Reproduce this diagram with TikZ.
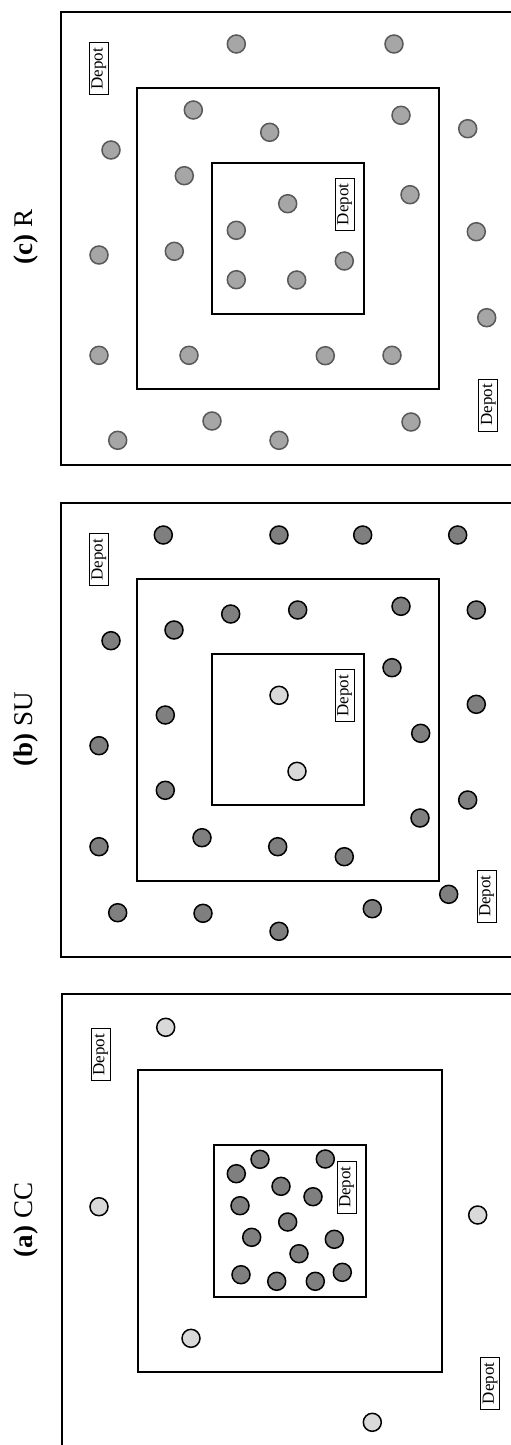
\documentclass[tikz,border=0pt]{standalone}
\usepackage{fontspec}
\setmainfont{Liberation Serif}
\definecolor{dkfill}{HTML}{7F7F7F}
\definecolor{mdfill}{HTML}{A6A6A6}
\definecolor{ltfill}{HTML}{D9D9D9}
\definecolor{mdline}{HTML}{595959}
\tikzset{
  dk/.style={circle,draw=black,fill=dkfill,line width=1.5pt,minimum size=18pt,inner sep=0pt},
  lt/.style={circle,draw=black,fill=ltfill,line width=1.5pt,minimum size=18pt,inner sep=0pt},
  md/.style={circle,draw=mdline,fill=mdfill,line width=1.5pt,minimum size=18pt,inner sep=0pt},
  depot/.style={draw,line width=0.9pt,rotate=90,fill=white,font=\fontsize{17}{17}\selectfont,inner sep=0pt,minimum width=52pt,minimum height=19pt},
  lbl/.style={rotate=90,font=\fontsize{27}{27}\selectfont,inner sep=0pt},
  frame/.style={draw=black,line width=2pt}
}
\begin{document}
\begin{tikzpicture}[x=1pt,y=-1pt]
\useasboundingbox (0,0) rectangle (511,1445);
\clip (0,0) rectangle (511,1445);
\fill[white] (0,0) rectangle (511,1445);
% ---------------- (c) R
\node[lbl] (labc) at (26,237) {\textbf{(c)} R};
\draw[frame] (60.7,12.3) rectangle (513.4,465);
\draw[frame] (136.7,87.7) rectangle (439,389);
\draw[frame] (212,163.3) rectangle (363.7,314);
\node[depot] (c-d1) at (98.8,68.7) {Depot};
\node[depot] (c-d2) at (344.7,204.3) {Depot};
\node[depot] (c-d3) at (488.3,405) {Depot};
\foreach \i/\x/\y in {1/236.3/44, 2/394/44, 3/193.3/110, 4/269.7/132.3, 5/401/115.3, 6/467.7/128.7, 7/111/150, 8/184.3/175.7, 9/410/194.7, 10/287.7/203.7, 11/236.3/230.3, 12/476.3/231.7, 13/99/255, 14/174.3/251.3, 15/344.3/261, 16/236.3/279.7, 17/296.7/280, 18/486.7/317.7, 19/99/355.3, 20/189/355.3, 21/325.3/355.7, 22/392/355.3, 23/212/421, 24/411/422, 25/117.7/440.3, 26/279/440.3}
  \node[md] (c\i) at (\x,\y) {};
% ---------------- (b) SU
\node[lbl] (labb) at (26,729) {\textbf{(b)} SU};
\draw[frame] (60.7,503.3) rectangle (513.4,956.7);
\draw[frame] (136.7,578.7) rectangle (439,880.7);
\draw[frame] (212,654) rectangle (363.7,805);
\node[depot] (b-d1) at (98.8,559.7) {Depot};
\node[depot] (b-d2) at (344.7,695.8) {Depot};
\node[depot] (b-d3) at (486.5,896.2) {Depot};
\foreach \i/\x/\y in {1/163.3/535, 2/279/535, 3/362.7/535, 4/457.7/535, 5/230.7/614, 6/297.7/610, 7/401/606.3, 8/476.3/610, 9/174/630, 10/111/640.7, 11/392/667.7, 12/476.3/704.3, 13/165.3/715, 14/420.7/733.3, 15/99/745.7, 16/165.3/790.3, 17/467.7/800, 18/420/818, 19/202/837.7, 20/277.7/846.7, 21/344.3/856.7, 22/99/846.7, 23/448.7/894.3, 24/372.3/908.7, 25/117.7/912.7, 26/203/913.3, 27/279/931.3}
  \node[dk] (b\i) at (\x,\y) {};
\node[lt] (b28) at (279,695.3) {};
\node[lt] (b29) at (297,771.3) {};
% ---------------- (a) CC
\node[lbl] (laba) at (26,1220) {\textbf{(a)} CC};
\draw[frame] (62.3,994.3) rectangle (515,1447);
\draw[frame] (138,1070) rectangle (441.7,1372.3);
\draw[frame] (213.7,1145) rectangle (365.7,1297.3);
\foreach \i/\x/\y in {1/165.7/1027.3, 2/99/1206.7, 3/477.7/1215, 4/191/1338.3, 5/372.3/1422.3}
  \node[lt] (a\i) at (\x,\y) {};
\foreach \i/\x/\y in {6/260/1159.3, 7/325.3/1159, 8/236.3/1173.7, 9/281/1186.3, 10/313/1196.7, 11/240/1205.7, 12/287.7/1222, 13/251.7/1237.3, 14/334.3/1239.3, 15/299/1253.7, 16/241/1274.7, 17/276.7/1281.3, 18/315.3/1281.3, 19/342.3/1272.3}
  \node[dk] (a\i) at (\x,\y) {};
\node[depot] (a-d1) at (100.7,1054.8) {Depot};
\node[depot] (a-d2) at (346.7,1187.2) {Depot};
\node[depot] (a-d3) at (490,1383.3) {Depot};
\end{tikzpicture}
\end{document}
